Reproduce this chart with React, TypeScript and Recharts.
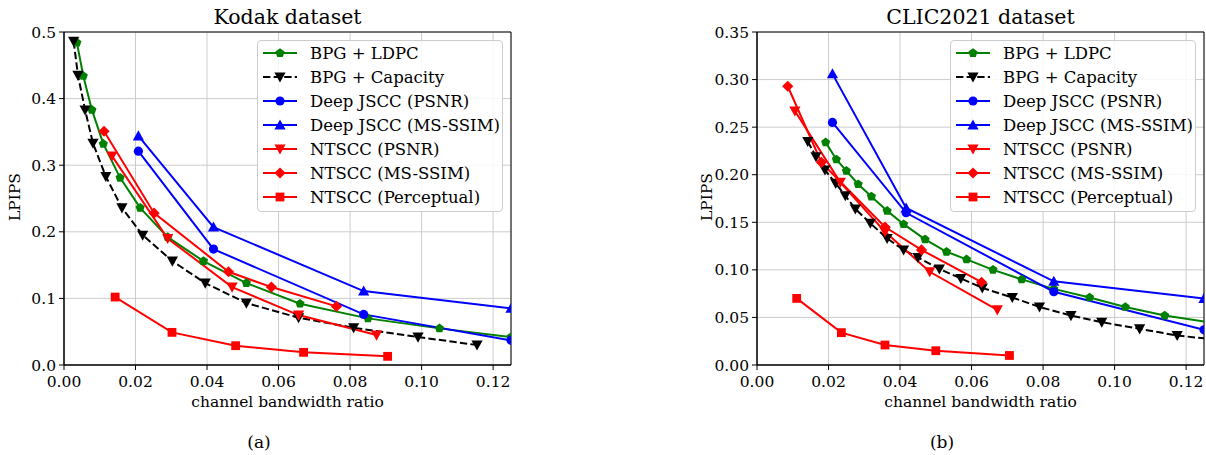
import React from 'react'
import { CartesianGrid, Legend, Line, LineChart, ReferenceArea, XAxis, YAxis } from 'recharts'

const FONT = '"DejaVu Serif", serif'

// shared axis ticks
const xTicks = [0, 0.02, 0.04, 0.06, 0.08, 0.1, 0.12]
const kodakYTicks = [0, 0.1, 0.2, 0.3, 0.4, 0.5]
const clicYTicks = [0, 0.05, 0.1, 0.15, 0.2, 0.25, 0.3, 0.35]

// Kodak dataset
const kodakLdpcX = [0.0036, 0.0054, 0.0078, 0.011, 0.0157, 0.0213, 0.029, 0.039, 0.051, 0.066, 0.085, 0.105, 0.125]
const kodakLdpcY = [0.484, 0.434, 0.383, 0.332, 0.281, 0.236, 0.192, 0.156, 0.123, 0.092, 0.07, 0.055, 0.042]
const kodakCapX = [0.0027, 0.0039, 0.0059, 0.0081, 0.0117, 0.0162, 0.022, 0.0303, 0.0395, 0.051, 0.0656, 0.081, 0.099, 0.1155]
const kodakCapY = [0.486, 0.435, 0.383, 0.333, 0.283, 0.236, 0.195, 0.156, 0.123, 0.093, 0.071, 0.056, 0.042, 0.03]
const kodakJsccX = [0.0208, 0.0418, 0.0838, 0.125]
const kodakJsccPsnrY = [0.321, 0.174, 0.076, 0.037]
const kodakJsccSsimY = [0.344, 0.207, 0.111, 0.085]
const kodakNtPsnrX = [0.0134, 0.029, 0.047, 0.0656, 0.0874]
const kodakNtPsnrY = [0.314, 0.19, 0.117, 0.075, 0.045]
const kodakNtSsimX = [0.0112, 0.0252, 0.046, 0.058, 0.0762]
const kodakNtSsimY = [0.351, 0.228, 0.14, 0.117, 0.088]
const kodakNtPercX = [0.0143, 0.0302, 0.048, 0.067, 0.0905]
const kodakNtPercY = [0.102, 0.049, 0.029, 0.019, 0.013]

// CLIC2021 dataset
const clicLdpcX = [0.0192, 0.0222, 0.025, 0.0283, 0.032, 0.0364, 0.041, 0.047, 0.053, 0.0586, 0.066, 0.074, 0.083, 0.093, 0.103, 0.114, 0.135]
const clicLdpcY = [0.234, 0.216, 0.204, 0.19, 0.177, 0.162, 0.148, 0.132, 0.119, 0.111, 0.1, 0.09, 0.08, 0.071, 0.061, 0.052, 0.04]
const clicCapX = [0.0142, 0.0165, 0.019, 0.022, 0.0247, 0.0275, 0.0317, 0.0364, 0.041, 0.045, 0.051, 0.057, 0.063, 0.0714, 0.079, 0.0878, 0.0964, 0.107, 0.1175, 0.13]
const clicCapY = [0.235, 0.219, 0.205, 0.191, 0.178, 0.164, 0.149, 0.133, 0.121, 0.113, 0.101, 0.091, 0.081, 0.071, 0.061, 0.052, 0.045, 0.038, 0.031, 0.026]
const clicJsccX = [0.0211, 0.0417, 0.083, 0.125]
const clicJsccPsnrY = [0.255, 0.16, 0.077, 0.037]
const clicJsccSsimY = [0.306, 0.165, 0.088, 0.07]
const clicNtPsnrX = [0.0106, 0.0233, 0.0358, 0.0483, 0.0672]
const clicNtPsnrY = [0.267, 0.192, 0.14, 0.098, 0.058]
const clicNtSsimX = [0.0086, 0.018, 0.0358, 0.046, 0.0628]
const clicNtSsimY = [0.293, 0.213, 0.145, 0.121, 0.087]
const clicNtPercX = [0.0111, 0.0236, 0.0358, 0.05, 0.0706]
const clicNtPercY = [0.07, 0.034, 0.021, 0.015, 0.01]

const seriesNames = [
  'BPG + LDPC',
  'BPG + Capacity',
  'Deep JSCC (PSNR)',
  'Deep JSCC (MS-SSIM)',
  'NTSCC (PSNR)',
  'NTSCC (MS-SSIM)',
  'NTSCC (Perceptual)',
]

const styles = [
  { color: '#008000', marker: 'p', dashed: false },
  { color: '#000000', marker: 'v', dashed: true },
  { color: '#0000ff', marker: 'o', dashed: false },
  { color: '#0000ff', marker: '^', dashed: false },
  { color: '#ff0000', marker: 'v', dashed: false },
  { color: '#ff0000', marker: 'D', dashed: false },
  { color: '#ff0000', marker: 's', dashed: false },
]

const pts = (xs: number[], ys: number[]) => xs.map((x, i) => ({ x, y: ys[i] }))

const kodakSeries = [
  pts(kodakLdpcX, kodakLdpcY),
  pts(kodakCapX, kodakCapY),
  pts(kodakJsccX, kodakJsccPsnrY),
  pts(kodakJsccX, kodakJsccSsimY),
  pts(kodakNtPsnrX, kodakNtPsnrY),
  pts(kodakNtSsimX, kodakNtSsimY),
  pts(kodakNtPercX, kodakNtPercY),
]

const clicSeries = [
  pts(clicLdpcX, clicLdpcY),
  pts(clicCapX, clicCapY),
  pts(clicJsccX, clicJsccPsnrY),
  pts(clicJsccX, clicJsccSsimY),
  pts(clicNtPsnrX, clicNtPsnrY),
  pts(clicNtSsimX, clicNtSsimY),
  pts(clicNtPercX, clicNtPercY),
]

function Marker({ shape, cx, cy, color }: { shape: string; cx: number; cy: number; color: string }) {
  if (cx == null || cy == null || isNaN(cx) || isNaN(cy)) return null
  if (shape === 'o') return <circle cx={cx} cy={cy} r={4.6} fill={color} />
  if (shape === 's') return <rect x={cx - 4.4} y={cy - 4.4} width={8.8} height={8.8} fill={color} />
  if (shape === 'D') {
    const d = 5.6
    return <polygon points={`${cx},${cy - d} ${cx + d},${cy} ${cx},${cy + d} ${cx - d},${cy}`} fill={color} />
  }
  if (shape === '^') {
    const r = 5.6
    return <polygon points={`${cx},${cy - r} ${cx + r},${cy + r * 0.8} ${cx - r},${cy + r * 0.8}`} fill={color} />
  }
  if (shape === 'v') {
    const r = 5.6
    return <polygon points={`${cx},${cy + r} ${cx + r},${cy - r * 0.8} ${cx - r},${cy - r * 0.8}`} fill={color} />
  }
  // pentagon
  const r = 4.8
  const p = [0, 1, 2, 3, 4]
    .map((k) => {
      const a = -Math.PI / 2 + (k * 2 * Math.PI) / 5
      return `${cx + r * Math.cos(a)},${cy + r * Math.sin(a)}`
    })
    .join(' ')
  return <polygon points={p} fill={color} />
}

function LegendBox() {
  return (
    <div
      style={{
        border: '1px solid #cccccc',
        borderRadius: 4,
        background: 'rgba(255,255,255,0.85)',
        width: 246,
        height: 172,
        boxSizing: 'border-box',
        fontFamily: FONT,
        fontSize: 16.5,
        color: '#000',
      }}
    >
      {seriesNames.map((name, i) => (
        <div key={name} style={{ height: 24, display: 'flex', alignItems: 'center', whiteSpace: 'nowrap' }}>
          <svg width={52} height={16} style={{ flex: 'none' }}>
            <line
              x1={5}
              x2={39}
              y1={8}
              y2={8}
              stroke={styles[i].color}
              strokeWidth={2}
              strokeDasharray={styles[i].dashed ? '7.4 3.2' : undefined}
            />
            <Marker shape={styles[i].marker} cx={22} cy={8} color={styles[i].color} />
          </svg>
          <span>{name}</span>
        </div>
      ))}
    </div>
  )
}

interface PanelProps {
  left: number
  width: number
  plotLeft: number
  plotRight: number
  title: string
  caption: string
  captionX: number
  yMax: number
  yTicks: number[]
  yDigits: number
  series: { x: number; y: number }[][]
  legendLeft: number
}

function Panel({ left, width, plotLeft, plotRight, title, caption, captionX, yMax, yTicks, yDigits, series, legendLeft }: PanelProps) {
  const yAxisWidth = 50
  const plotTop = 32
  const plotBottom = 365
  const height = 420
  const xAxisHeight = 30
  const center = (plotLeft + plotRight) / 2 - left
  const tickStyle = { fontSize: 15.5, fill: '#000', fontFamily: FONT }

  return (
    <div style={{ position: 'absolute', left, top: 0, width, height: 455 }}>
      <div
        style={{
          position: 'absolute',
          left: center - 150,
          width: 300,
          top: 6,
          textAlign: 'center',
          fontSize: 20.5,
          lineHeight: '22px',
          fontFamily: FONT,
        }}
      >
        {title}
      </div>
      <LineChart
        width={width}
        height={height}
        margin={{
          top: plotTop,
          left: plotLeft - left - yAxisWidth,
          right: left + width - plotRight,
          bottom: height - plotBottom - xAxisHeight,
        }}
      >
        <CartesianGrid stroke="#cccccc" strokeWidth={1} />
        <XAxis
          type="number"
          dataKey="x"
          domain={[0, 0.125]}
          ticks={xTicks}
          allowDataOverflow
          tickFormatter={(v: number) => v.toFixed(2)}
          tick={tickStyle}
          tickSize={5}
          tickMargin={6}
          stroke="#000"
          height={xAxisHeight}
          interval={0}
        />
        <YAxis
          type="number"
          dataKey="y"
          domain={[0, yMax]}
          ticks={yTicks}
          allowDataOverflow
          tickFormatter={(v: number) => v.toFixed(yDigits)}
          tick={tickStyle}
          tickSize={5}
          tickMargin={3}
          stroke="#000"
          width={yAxisWidth}
          interval={0}
        />
        {series.map((data, i) => (
          <Line
            key={seriesNames[i]}
            name={seriesNames[i]}
            data={data}
            dataKey="y"
            type="linear"
            stroke={styles[i].color}
            strokeWidth={2}
            strokeDasharray={styles[i].dashed ? '7.4 3.2' : undefined}
            isAnimationActive={false}
            dot={(p: any) => (
              <Marker key={`${seriesNames[i]}-${p.index}`} shape={styles[i].marker} cx={p.cx} cy={p.cy} color={styles[i].color} />
            )}
            activeDot={false}
          />
        ))}
        <ReferenceArea x1={0} x2={0.125} y1={0} y2={yMax} fill="none" stroke="#000" strokeWidth={1} ifOverflow="visible" />
        <Legend
          layout="horizontal"
          verticalAlign="middle"
          align="center"
          content={() => <LegendBox />}
          wrapperStyle={{ left: legendLeft - left, top: 40, width: 246, height: 172 }}
        />
      </LineChart>
      <div
        style={{
          position: 'absolute',
          left: center - 150,
          width: 300,
          top: 393,
          textAlign: 'center',
          fontSize: 15.5,
          lineHeight: '18px',
          fontFamily: FONT,
        }}
      >
        channel bandwidth ratio
      </div>
      <div
        style={{
          position: 'absolute',
          left: 15 - 50,
          width: 100,
          top: 197 - 9,
          textAlign: 'center',
          fontSize: 15.5,
          lineHeight: '18px',
          fontFamily: FONT,
          transform: 'rotate(-90deg)',
        }}
      >
        LPIPS
      </div>
      <div
        style={{
          position: 'absolute',
          left: captionX - left - 50,
          width: 100,
          top: 432,
          textAlign: 'center',
          fontSize: 17,
          lineHeight: '20px',
          fontFamily: FONT,
        }}
      >
        {caption}
      </div>
    </div>
  )
}

export default function App() {
  return (
    <div style={{ position: 'absolute', left: 0, top: 0, width: 1206, height: 455, background: '#fff', overflow: 'hidden' }}>
      <Panel
        left={0}
        width={530}
        plotLeft={64}
        plotRight={511}
        title="Kodak dataset"
        caption="(a)"
        captionX={259}
        yMax={0.5}
        yTicks={kodakYTicks}
        yDigits={1}
        series={kodakSeries}
        legendLeft={257}
      />
      <Panel
        left={692}
        width={514}
        plotLeft={757}
        plotRight={1204}
        title="CLIC2021 dataset"
        caption="(b)"
        captionX={942}
        yMax={0.35}
        yTicks={clicYTicks}
        yDigits={2}
        series={clicSeries}
        legendLeft={950}
      />
    </div>
  )
}
